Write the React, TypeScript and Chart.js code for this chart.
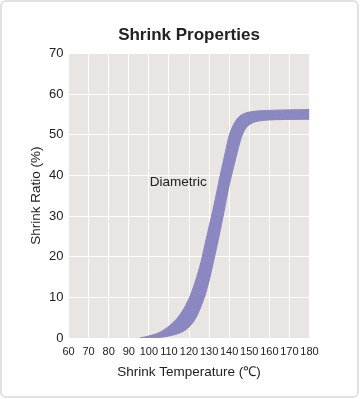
import React, { useEffect, useRef } from "react";
import { Chart, registerables } from "chart.js";

Chart.register(...registerables);

// ---- Data ----
const TITLE = "Shrink Properties";
const X_TITLE = "Shrink Temperature (℃)";
const Y_TITLE = "Shrink Ratio (%)";
const BAND_LABEL = "Diametric";
const BAND_LABEL_TEMP = 114.6;
const BAND_LABEL_RATIO = 38.3;

const X_MIN = 60;
const X_MAX = 180;
const X_STEP = 10;
const Y_MIN = 0;
const Y_MAX = 70;
const Y_STEP = 10;

// upper (left) edge of the band
const upperTemp = [95.5, 100, 105, 110, 114, 117.5, 120.5, 123.5, 126, 128, 130.5, 133, 135.5, 138, 140, 142, 144.5, 147.5, 151.5, 158, 168, 180];
const upperRatio = [0, 0.5, 1.3, 2.9, 4.8, 7.3, 10.3, 14.5, 18.8, 23.2, 28.5, 34, 40, 45.5, 49.8, 52.3, 54.2, 55.2, 55.7, 55.95, 56.1, 56.2];

// lower (right) edge of the band
const lowerTemp = [95.5, 102, 108, 113, 117, 120, 122.5, 124.5, 126.3, 128, 130, 132, 134, 136, 138, 140, 142.2, 144.2, 146, 148, 150.5, 154, 159, 168, 180];
const lowerRatio = [0, 0.05, 0.3, 0.85, 1.6, 2.7, 4.2, 6, 8.2, 10.5, 14, 18.3, 22.8, 27.5, 32.5, 37.5, 42, 46, 49.2, 51.4, 52.6, 53.3, 53.6, 53.75, 53.8];

// ---- Styles ----
const FONT = "'Liberation Sans', Arial, sans-serif";
const TEXT = "#222222";
const BAND = "#8b87c0";
const PLOT_BG = "#e8e5e2";

export default function App() {
  const ref = useRef<HTMLCanvasElement>(null);

  useEffect(() => {
    document.body.style.margin = "0";
    const canvas = ref.current;
    if (!canvas) return;

    const plotBg = {
      id: "plotBg",
      beforeDraw(chart: any) {
        const { ctx, chartArea: a } = chart;
        ctx.save();
        ctx.fillStyle = PLOT_BG;
        ctx.fillRect(a.left, a.top, a.right - a.left, a.bottom - a.top);
        ctx.restore();
      },
    };

    const bandLabel = {
      id: "bandLabel",
      afterDatasetsDraw(chart: any) {
        const { ctx, scales } = chart;
        const px = scales.x.getPixelForValue(BAND_LABEL_TEMP);
        const py = scales.y.getPixelForValue(BAND_LABEL_RATIO);
        ctx.save();
        ctx.font = `13.5px ${FONT}`;
        ctx.fillStyle = TEXT;
        ctx.textAlign = "center";
        ctx.textBaseline = "middle";
        ctx.fillText(BAND_LABEL, px, py);
        ctx.restore();
      },
    };

    const chart = new Chart(canvas, {
      type: "line",
      data: {
        datasets: [
          {
            label: "upper",
            data: upperTemp.map((x, i) => ({ x, y: upperRatio[i] })),
            borderColor: BAND,
            backgroundColor: BAND,
            borderWidth: 1,
            pointRadius: 0,
            cubicInterpolationMode: "monotone",
            fill: false,
          },
          {
            label: "lower",
            data: lowerTemp.map((x, i) => ({ x, y: lowerRatio[i] })),
            borderColor: BAND,
            backgroundColor: BAND,
            borderWidth: 1,
            pointRadius: 0,
            cubicInterpolationMode: "monotone",
            fill: "-1",
          },
        ],
      },
      options: {
        responsive: false,
        animation: false,
        devicePixelRatio: 1,
        layout: { padding: { top: 25, left: 28, right: 50.5, bottom: 19 } },
        plugins: {
          legend: { display: false },
          tooltip: { enabled: false },
          title: {
            display: true,
            text: TITLE,
            color: TEXT,
            fullSize: false,
            font: { family: FONT, size: 17, weight: "bold" },
            padding: { top: 0, bottom: 8 },
          },
        },
        scales: {
          x: {
            type: "linear",
            min: X_MIN,
            max: X_MAX,
            ticks: {
              stepSize: X_STEP,
              autoSkip: false,
              maxRotation: 0,
              color: TEXT,
              padding: 7,
              font: { family: FONT, size: 11 },
            },
            grid: { color: "#ffffff", lineWidth: 1, drawTicks: false },
            border: { display: false },
            title: {
              display: true,
              text: X_TITLE,
              color: TEXT,
              padding: 0,
              font: { family: FONT, size: 13.5 },
            },
            afterFit(scale: any) {
              scale.height = 42;
            },
          },
          y: {
            min: Y_MIN,
            max: Y_MAX,
            ticks: {
              stepSize: Y_STEP,
              color: TEXT,
              padding: 5,
              font: { family: FONT, size: 13 },
            },
            grid: { color: "#ffffff", lineWidth: 1, drawTicks: false },
            border: { display: false },
            title: {
              display: true,
              text: Y_TITLE,
              color: TEXT,
              padding: 0,
              font: { family: FONT, size: 13.5 },
            },
            afterFit(scale: any) {
              scale.width = 40.5;
            },
          },
        },
      },
      plugins: [plotBg, bandLabel],
    } as any);

    return () => chart.destroy();
  }, []);

  return (
    <div style={{ position: "relative", width: 360, height: 399, background: "#ffffff" }}>
      <div
        style={{
          position: "absolute",
          left: 0,
          top: 0,
          width: 359,
          height: 398,
          border: "2px solid #e2e2e2",
          borderRadius: 6,
          boxSizing: "border-box",
        }}
      />
      <canvas ref={ref} width={360} height={399} style={{ position: "absolute", left: 0, top: 0 }} />
    </div>
  );
}
